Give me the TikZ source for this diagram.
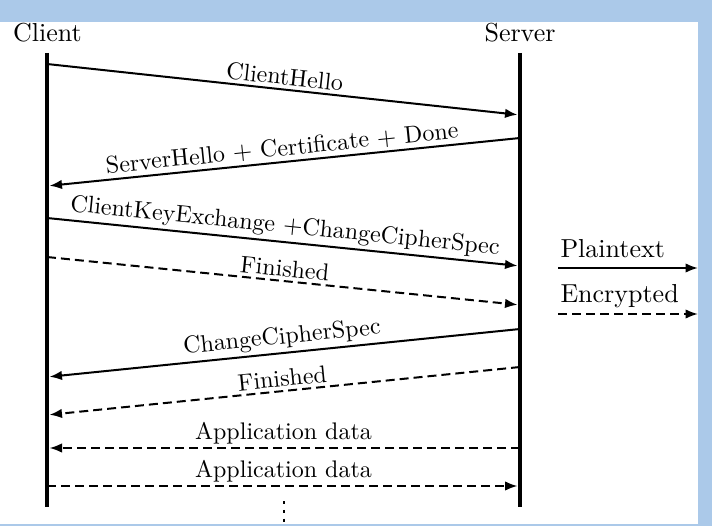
\documentclass[tikz,border=0pt]{standalone}
\usetikzlibrary{arrows.meta}
\definecolor{frameblue}{RGB}{171,201,233}
\begin{document}
\begin{tikzpicture}[x=0.4pt,y=-0.4pt,
  msg/.style={line width=0.8pt, -{Latex[length=5pt,width=3.8pt]}, shorten >=1pt},
  enc/.style={msg, dash pattern=on 3.6pt off 2pt},
  lifeline/.style={line width=1.3pt},
  lbl/.style={font=\fontsize{9.6}{11}\selectfont, midway, above, sloped, inner sep=1.3pt},
  head/.style={font=\fontsize{10.4}{12}\selectfont, inner sep=0pt}
]
\useasboundingbox (0,0) rectangle (712,526);
\fill[white] (0,0) rectangle (712,526);
% headers
\node[head, anchor=base] (client) at (47.5,42) {Client};
\node[head, anchor=base] (server) at (520,42) {Server};
% lifelines
\coordinate (ctop) at (47,53); \coordinate (cbot) at (47,507);
\coordinate (stop) at (520,53); \coordinate (sbot) at (520,507);
\draw[lifeline] (ctop) -- (cbot);
\draw[lifeline] (stop) -- (sbot);
% message end points
\coordinate (c1) at (47,64);   \coordinate (s1) at (520,115);
\coordinate (s2) at (520,138); \coordinate (c2) at (47,186);
\coordinate (c3) at (47,218);  \coordinate (s3) at (520,266);
\coordinate (c4) at (47,257);  \coordinate (s4) at (520,305);
\coordinate (s5) at (520,329); \coordinate (c5) at (47,377);
\coordinate (s6) at (520,367); \coordinate (c6) at (47,415);
\coordinate (s7) at (520,448); \coordinate (c7) at (47,448);
\coordinate (c8) at (47,486);  \coordinate (s8) at (520,486);
% messages
\draw[msg] (c1) -- node[lbl] {ClientHello} (s1);
\draw[msg] (s2) -- node[lbl] {ServerHello $+$ Certificate $+$ Done} (c2);
\draw[msg] (c3) -- node[lbl] {ClientKeyExchange $+$ChangeCipherSpec} (s3);
\draw[enc] (c4) -- node[lbl] {Finished} (s4);
\draw[msg] (s5) -- node[lbl] {ChangeCipherSpec} (c5);
\draw[enc] (s6) -- node[lbl] {Finished} (c6);
\draw[enc] (s7) -- node[lbl] {Application data} (c7);
\draw[enc] (c8) -- node[lbl] {Application data} (s8);
% continuation
\coordinate (more0) at (284,501); \coordinate (more1) at (284,528);
\draw[line width=1.1pt, dash pattern=on 1.3pt off 2.2pt] (more0) -- (more1);
% legend
\coordinate (pa) at (558,268); \coordinate (pb) at (698,268);
\coordinate (ea) at (558,314); \coordinate (eb) at (698,314);
\draw[msg, shorten >=0pt] (pa) -- (pb);
\draw[enc, shorten >=0pt] (ea) -- (eb);
\node[head, anchor=base west] (plain) at (560,257) {Plaintext};
\node[head, anchor=base west] (crypt) at (560,302) {Encrypted};
% frame
\fill[frameblue] (0,0) rectangle (712,22);
\fill[frameblue] (698,0) rectangle (712,526);
\fill[frameblue] (0,524) rectangle (712,526);
\end{tikzpicture}
\end{document}
